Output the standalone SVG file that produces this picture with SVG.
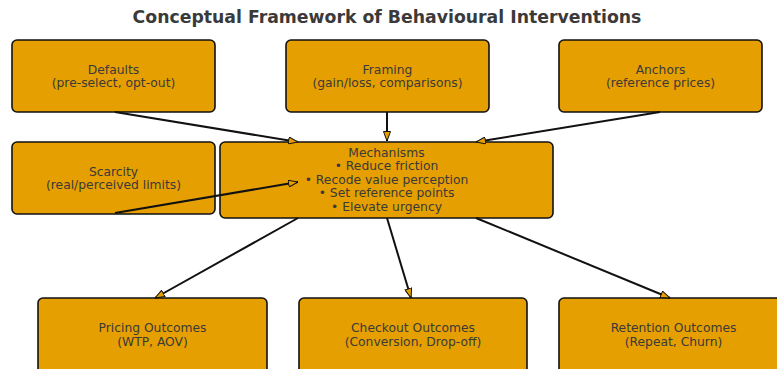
<svg xmlns="http://www.w3.org/2000/svg" width="777" height="369" viewBox="0 0 777 369">
  <style>
    .box { fill: #E69F00; stroke: #111; stroke-width: 1.6; }
    .lbl { font-family: "DejaVu Sans", sans-serif; font-size: 12.3px; fill: #3a3a3a; text-anchor: middle; }
    .title { font-family: "DejaVu Sans", sans-serif; font-size: 17.3px; font-weight: bold; fill: #3a3a3a; text-anchor: middle; }
    .edge { stroke: #111; stroke-width: 2; fill: none; marker-end: url(#head); }
  </style>
  <defs>
    <marker id="head" viewBox="0 0 10 8" refX="10" refY="4" markerWidth="10" markerHeight="8" markerUnits="userSpaceOnUse" orient="auto">
      <path d="M0.5,0.5 L10,4 L0.5,7.5 Z" fill="#E69F00" stroke="#111" stroke-width="1"/>
    </marker>
  </defs>
  <rect width="777" height="369" fill="#fff"/>
  <text class="title" x="387" y="23">Conceptual Framework of Behavioural Interventions</text>

  <g id="defaults">
    <rect class="box" x="12" y="40" width="203" height="72" rx="5"/>
    <text class="lbl" x="113.5" y="73.5">Defaults</text>
    <text class="lbl" x="113.5" y="86.5">(pre-select, opt-out)</text>
  </g>
  <g id="framing">
    <rect class="box" x="286" y="40" width="203" height="72" rx="5"/>
    <text class="lbl" x="387.5" y="73.5">Framing</text>
    <text class="lbl" x="387.5" y="86.5">(gain/loss, comparisons)</text>
  </g>
  <g id="anchors">
    <rect class="box" x="559" y="40" width="203" height="72" rx="5"/>
    <text class="lbl" x="660.5" y="73.5">Anchors</text>
    <text class="lbl" x="660.5" y="86.5">(reference prices)</text>
  </g>
  <g id="scarcity">
    <rect class="box" x="12" y="142" width="203" height="72" rx="5"/>
    <text class="lbl" x="113.5" y="175.5">Scarcity</text>
    <text class="lbl" x="113.5" y="188.5">(real/perceived limits)</text>
  </g>
  <g id="mechanisms">
    <rect class="box" x="220" y="142" width="333" height="76" rx="5"/>
    <text class="lbl" x="386.5" y="156.5">Mechanisms</text>
    <text class="lbl" x="386.5" y="170">• Reduce friction</text>
    <text class="lbl" x="386.5" y="183.5">• Recode value perception</text>
    <text class="lbl" x="386.5" y="197">• Set reference points</text>
    <text class="lbl" x="386.5" y="210.5">• Elevate urgency</text>
  </g>
  <g id="pricing">
    <rect class="box" x="38" y="298" width="229" height="80" rx="5"/>
    <text class="lbl" x="152.5" y="331.5">Pricing Outcomes</text>
    <text class="lbl" x="152.5" y="345.5">(WTP, AOV)</text>
  </g>
  <g id="checkout">
    <rect class="box" x="299" y="298" width="228" height="80" rx="5"/>
    <text class="lbl" x="413" y="331.5">Checkout Outcomes</text>
    <text class="lbl" x="413" y="345.5">(Conversion, Drop-off)</text>
  </g>
  <g id="retention">
    <rect class="box" x="559" y="298" width="229" height="80" rx="5"/>
    <text class="lbl" x="673.5" y="331.5">Retention Outcomes</text>
    <text class="lbl" x="673.5" y="345.5">(Repeat, Churn)</text>
  </g>

  <g id="connectors">
    <line class="edge" x1="115" y1="112" x2="298" y2="142"/>
    <line class="edge" x1="387" y1="112" x2="387" y2="141"/>
    <line class="edge" x1="660" y1="112" x2="476" y2="142"/>
    <line class="edge" x1="115" y1="213" x2="298" y2="182"/>
    <line class="edge" x1="298" y1="218" x2="155" y2="298"/>
    <line class="edge" x1="387" y1="218" x2="411" y2="298"/>
    <line class="edge" x1="476" y1="218" x2="670" y2="298"/>
  </g>
</svg>
